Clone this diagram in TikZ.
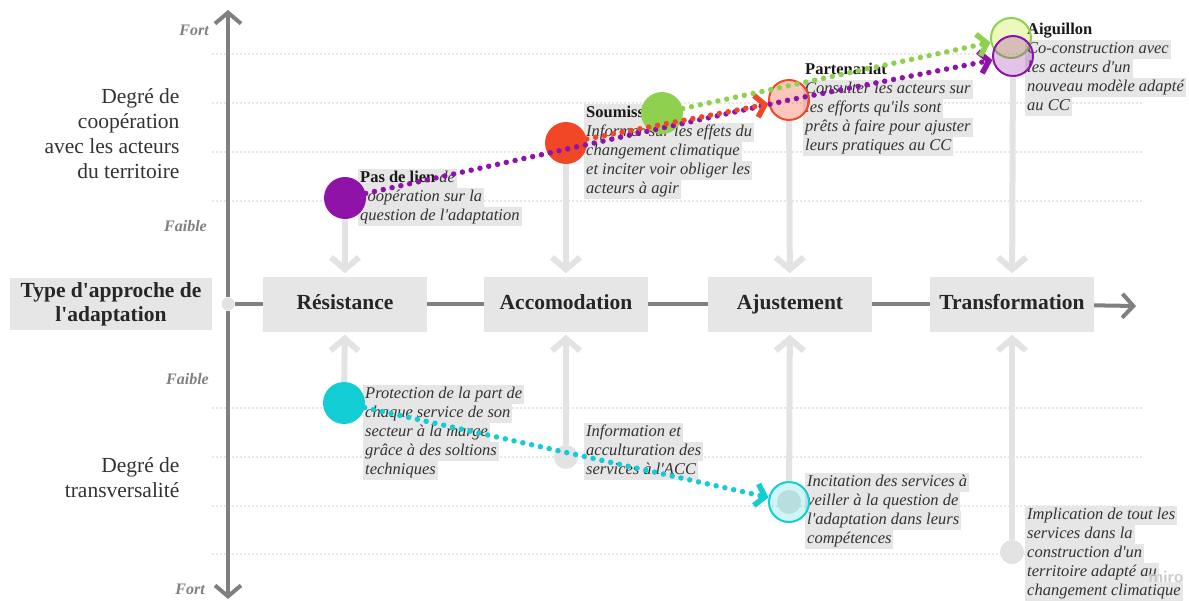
\documentclass[tikz,border=0pt]{standalone}
\usepackage{fontspec}
\setmainfont{Liberation Serif}[Ligatures = TeXOff]
\usepackage{xcolor}
\usepackage{tikz}
\usetikzlibrary{arrows.meta}

\definecolor{axisgray}{HTML}{808080}
\definecolor{linkgray}{HTML}{E3E3E3}
\definecolor{boxgray}{HTML}{E6E6E6}
\definecolor{guidegray}{HTML}{999999}
\definecolor{inkgray}{HTML}{333333}
\definecolor{coopviolet}{HTML}{8F12A9}
\definecolor{cooporange}{HTML}{F24726}
\definecolor{coopgreen}{HTML}{8FD14F}
\definecolor{transcyan}{HTML}{12CDD4}

\newcommand{\hilite}[1]{{\setlength{\fboxsep}{0pt}\colorbox{boxgray}{\strut\kern2pt #1\kern2pt}}}
\newcommand{\heading}[1]{\strut\kern2pt\textup{\textbf{\color{black!90}#1}}}

\tikzset{
	stagebox/.style = {fill = boxgray, minimum width = 164pt, minimum height = 55pt, text height = 15pt, text depth = 4pt, font = \fontsize{21.5}{24}\selectfont\bfseries, text = black!85},
	spot/.style = {circle, inner sep = 0pt, minimum size = 42pt},
	enddot/.style = {circle, fill = linkgray, inner sep = 0pt, minimum size = 24pt},
	note/.style = {anchor = north west, inner sep = 0pt, align = left, font = \fontsize{16.5}{19}\selectfont\itshape, text = inkgray},
	strength/.style = {anchor = east, inner sep = 0pt, font = \fontsize{16}{18}\selectfont\bfseries\itshape, text = axisgray},
	guide/.style = {guidegray, line width = 1.4pt, dash pattern = on 0pt off 4pt, line cap = round},
	link/.style = {linkgray, line width = 6pt, shorten > = 3pt, -{Straight Barb[length = 12pt, width = 28pt]}},
	flow/.style = {#1, line width = 5.5pt, line cap = round, dash pattern = on 0pt off 9pt, -{Straight Barb[length = 9pt, width = 22pt]}},
	axisline/.style = {axisgray, line width = 4pt},
}

\begin{document}
\begin{tikzpicture}[x = 1pt, y = -1pt]
		\useasboundingbox (0,0) rectangle (1189,600);
		
		\foreach \y in {54, 103, 152, 201, 408, 457, 506, 554}
			\draw [guide] (213,\y) -- (1142,\y);
		
		\coordinate (coop) at (228,10);
		\coordinate (trans) at (228,599);
		\coordinate (next) at (1136,306);
		\node [circle, fill = linkgray, inner sep = 0pt, minimum size = 13pt] (origin) at (228,304) {};
		\begin{scope}[axisline, -{Straight Barb[length = 11pt, width = 26pt]}]
			\draw (origin) -- (coop);
			\draw (origin) -- (trans);
		\end{scope}
		
		\node [fill = boxgray, minimum width = 202pt, minimum height = 52pt, align = center, font = \fontsize{21.5}{24}\selectfont\bfseries, text = black!85] (typebox) at (111,304) {Type d'approche de\\l'adaptation};
		\node [stagebox] (res) at (345,304) {Résistance};
		\node [stagebox] (acc) at (566,304) {Accomodation};
		\node [stagebox] (aju) at (790,304) {Ajustement};
		\node [stagebox] (tra) at (1012,304) {Transformation};
		\draw [axisline] (origin) -- (res);
		\draw [axisline] (res) -- (acc);
		\draw [axisline] (acc) -- (aju);
		\draw [axisline] (aju) -- (tra);
		\draw [axisline, -{Straight Barb[length = 11pt, width = 24pt]}] (tra) -- (next);
		
		\node [anchor = east, align = right, font = \fontsize{21.5}{25}\selectfont, text = inkgray] (coopaxis) at (183,134) {Degré de\\coopération\\avec les acteurs\\du territoire};
		\node [anchor = east, align = right, font = \fontsize{21.5}{25}\selectfont, text = inkgray] (transaxis) at (183,478) {Degré de\\transversalité};
		\node [strength] (coopstrong) at (209,30) {Fort};
		\node [strength] (coopweak) at (207,226) {Faible};
		\node [strength] (transweak) at (209,379) {Faible};
		\node [strength] (transstrong) at (205,589) {Fort};
		
		\node [note] (pasnote) at (358,169) {\hilite{\textup{\textbf{\color{black!90}Pas de lien}} de}\\\hilite{coopération sur la}\\\hilite{question de l'adaptation}};
		\node [note] (soumnote) at (584,104) {\hilite{\textup{\textbf{\color{black!90}Soumission}}}\\\hilite{Informer sur les effets du}\\\hilite{changement climatique}\\\hilite{et inciter voir obliger les}\\\hilite{acteurs à agir}};
		\node [note] (partnote) at (803,61) {\heading{Partenariat}\\\hilite{Consulter les acteurs sur}\\\hilite{les efforts qu'ils sont}\\\hilite{prêts à faire pour ajuster}\\\hilite{leurs pratiques au CC}};
		\node [note] (aignote) at (1025,21) {\heading{Aiguillon}\\\hilite{Co-construction avec}\\\hilite{les acteurs d'un}\\\hilite{nouveau modèle adapté}\\\hilite{au CC}};
		\node [note] (protnote) at (363,385) {\hilite{Protection de la part de}\\\hilite{chaque service de son}\\\hilite{secteur à la marge}\\\hilite{grâce à des soltions}\\\hilite{techniques}};
		\node [note] (infonote) at (584,423) {\hilite{Information et}\\\hilite{acculturation des}\\\hilite{services à l'ACC}};
		\node [note] (incitnote) at (805,473) {\hilite{Incitation des services à}\\\hilite{veiller à la question de}\\\hilite{l'adaptation dans leurs}\\\hilite{compétences}};
		\node [note] (implnote) at (1025,506) {\hilite{Implication de tout les}\\\hilite{services dans la}\\\hilite{construction d'un}\\\hilite{territoire adapté au}\\\hilite{changement climatique}};
		
		\node [spot, fill = coopviolet] (pas) at (345,198) {};
		\node [spot, fill = cooporange] (soum) at (566,143) {};
		\node [spot, fill = coopgreen] (soumB) at (662,113) {};
		\node [spot, minimum size = 40pt, draw = cooporange, line width = 2pt, fill = cooporange, fill opacity = 0.3] (part) at (789,100) {};
		\node [spot, minimum size = 40pt, draw = coopgreen, line width = 2pt, fill = coopgreen!50!yellow, fill opacity = 0.3] (aigG) at (1011,38) {};
		\node [spot, minimum size = 40pt, draw = coopviolet, line width = 2pt, fill = coopviolet, fill opacity = 0.25] (aigP) at (1013,56) {};
		\node [spot, fill = transcyan] (prot) at (344,403) {};
		\node [enddot] (info) at (566,457) {};
		\node [enddot] (incitdot) at (789,502) {};
		\node [spot, minimum size = 40pt, draw = transcyan, line width = 2pt, fill = transcyan, fill opacity = 0.2] (incit) at (789,502) {};
		\node [enddot] (impl) at (1012,552) {};
		
		\draw [link] (pas) -- (res);
		\draw [link] (soum) -- (acc);
		\draw [link] (part) -- (aju);
		\draw [link] (aigP) -- (tra);
		\draw [link] (prot) -- (res);
		\draw [link] (info) -- (acc);
		\draw [link] (incit) -- (aju);
		\draw [link] (impl) -- (tra);
		
		\draw [flow = coopviolet] (pas) -- (part.center) -- (aigP);
		\draw [flow = cooporange] (soum) -- (part);
		\draw [flow = coopgreen] (soumB) -- (aigG);
		\draw [flow = transcyan] (prot) -- (incit);
		
		\node [text = black!20, font = \sffamily\bfseries\fontsize{17}{17}\selectfont] (brand) at (1166,577) {miro};
	\end{tikzpicture}
\end{document}
